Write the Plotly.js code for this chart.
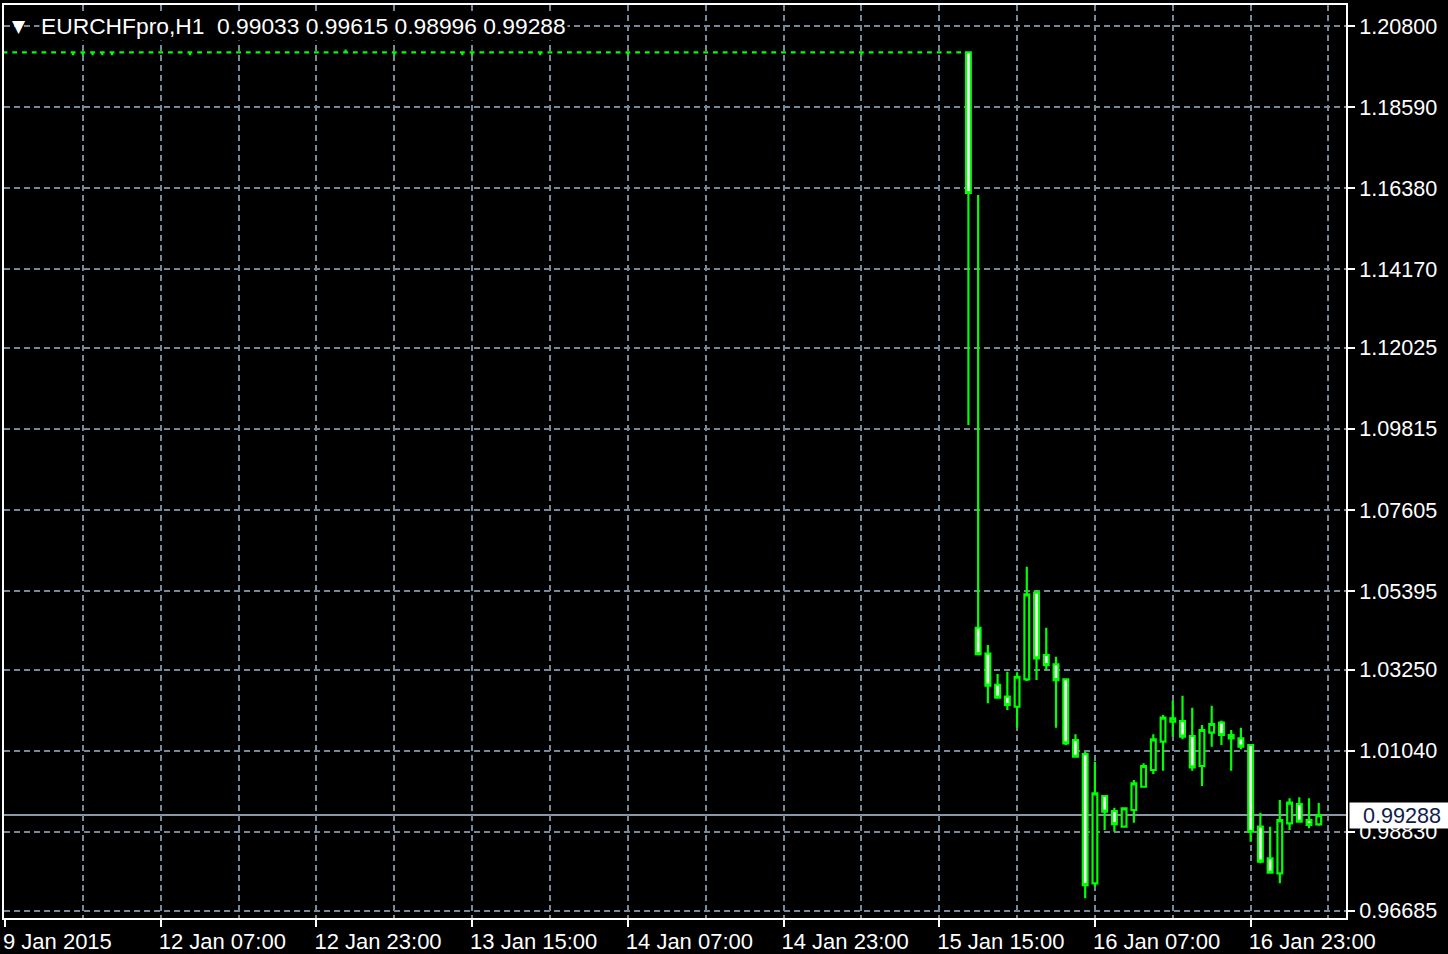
<!DOCTYPE html>
<html>
<head>
<meta charset="utf-8">
<script src="https://cdn.plot.ly/plotly-3.0.1.min.js"></script>
<style>html,body{margin:0;padding:0;background:#000;}#chart{width:1448px;height:954px;}</style>
</head>
<body>
<div id="chart"></div>
<script>
// ---- data (EURCHFpro, H1) ----
const symbolTitle = "EURCHFpro,H1";
const lastBarOHLC = ["0.99033", "0.99615", "0.98996", "0.99288"];
const lastPrice = 0.99288;

const xTickLabels = ["9 Jan 2015", "12 Jan 07:00", "12 Jan 23:00", "13 Jan 15:00", "14 Jan 07:00",
                     "14 Jan 23:00", "15 Jan 15:00", "16 Jan 07:00", "16 Jan 23:00"];
const xTickBars = [0, 16, 32, 48, 64, 80, 96, 112, 128];
const xGridBars = [8, 24, 40, 56, 72, 88, 104, 120, 136];

const yTickLabels = ["1.20800", "1.18590", "1.16380", "1.14170", "1.12025", "1.09815",
                     "1.07605", "1.05395", "1.03250", "1.01040", "0.98830", "0.96685"];

const openPrices = [
 1.2008,1.2008,1.2008,1.2008,1.2008,1.2008,1.2008,1.2008,1.2008,1.2008,1.2008,
 1.2008,1.2008,1.2008,1.2008,1.2008,1.2008,1.2008,1.2008,1.2008,1.2008,1.2008,
 1.2008,1.2008,1.2008,1.2008,1.2008,1.2008,1.2008,1.2008,1.2008,1.2008,1.2008,
 1.2008,1.2008,1.2008,1.2008,1.2008,1.2008,1.2008,1.2008,1.2008,1.2008,1.2008,
 1.2008,1.2008,1.2008,1.2008,1.2008,1.2008,1.2008,1.2008,1.2008,1.2008,1.2008,
 1.2008,1.2008,1.2008,1.2008,1.2008,1.2008,1.2008,1.2008,1.2008,1.2008,1.2008,
 1.2008,1.2008,1.2008,1.2008,1.2008,1.2008,1.2008,1.2008,1.2008,1.2008,1.2008,
 1.2008,1.2008,1.2008,1.2008,1.2008,1.2008,1.2008,1.2008,1.2008,1.2008,1.2008,
 1.2008,1.2008,1.2008,1.2008,1.2008,1.2008,1.2008,1.2008,1.2008,1.2008,1.2008,
 1.2008,1.04395,1.03690,1.02840,1.02514,1.02241,1.02988,1.05350,1.03651,1.03397,
 1.02988,1.01334,1.00952,0.97427,0.99807,0.99398,0.98970,0.99425,1.00060,1.00516,
 1.01287,1.01832,1.01851,1.01443,1.00625,1.01533,1.01805,1.01470,1.01380,1.01197,
 0.98970,0.98108,0.97699,0.99062,0.99589,0.99152,0.99033
];
const highPrices = [
 1.2008,1.2008,1.2008,1.2008,1.2008,1.2008,1.2008,1.2008,1.2008,1.2008,1.2008,
 1.2008,1.2008,1.2008,1.2008,1.2008,1.2008,1.2008,1.2008,1.2008,1.2008,1.2008,
 1.2008,1.2008,1.2008,1.2008,1.2008,1.2008,1.2008,1.2008,1.2008,1.2008,1.2008,
 1.2008,1.2008,1.2016,1.2008,1.2008,1.2008,1.2008,1.2008,1.2008,1.2008,1.2008,
 1.2008,1.2008,1.2008,1.2008,1.2008,1.2008,1.2008,1.2008,1.2008,1.2008,1.2008,
 1.2008,1.2008,1.2008,1.2008,1.2008,1.2008,1.2008,1.2008,1.2008,1.2008,1.2008,
 1.2008,1.2008,1.2008,1.2008,1.2008,1.2008,1.2008,1.2008,1.2008,1.2008,1.2008,
 1.2008,1.2008,1.2008,1.2008,1.2008,1.2008,1.2008,1.2008,1.2008,1.2008,1.2008,
 1.2008,1.2008,1.2008,1.2008,1.2008,1.2008,1.2008,1.2008,1.2008,1.2008,1.2008,
 1.2009,1.16192,1.03924,1.03133,1.03196,1.03179,1.06058,1.05423,1.04395,1.03605,
 1.03016,1.01489,1.01015,1.00742,0.99834,0.99488,0.99488,1.00243,1.00698,1.01489,
 1.02015,1.02405,1.02541,1.02214,1.01742,1.02269,1.01860,1.01606,1.01669,1.01216,
 0.99351,0.98970,0.99698,0.99744,0.99771,0.99744,0.99615
];
const lowPrices = [
 1.2008,1.2008,1.2008,1.2008,1.2008,1.2008,1.2008,1.2000,1.2000,1.2000,1.2000,
 1.2000,1.2008,1.2008,1.2008,1.2008,1.2008,1.2008,1.2008,1.2000,1.2008,1.2008,
 1.2008,1.2008,1.2008,1.2008,1.2008,1.2008,1.2008,1.2008,1.2008,1.2008,1.2008,
 1.2008,1.2008,1.2008,1.2008,1.2008,1.2008,1.2008,1.2000,1.2008,1.2008,1.2008,
 1.2008,1.2008,1.2008,1.2000,1.2000,1.2008,1.2008,1.2008,1.2008,1.2008,1.2008,
 1.2000,1.2008,1.2008,1.2008,1.2008,1.2008,1.2008,1.2008,1.2008,1.2000,1.2008,
 1.2008,1.2008,1.2008,1.2008,1.2008,1.2008,1.2008,1.2008,1.2008,1.2008,1.2008,
 1.2008,1.2008,1.2008,1.2008,1.2008,1.2008,1.2008,1.2008,1.2008,1.2008,1.2008,
 1.2000,1.2008,1.2008,1.2008,1.2008,1.2008,1.2008,1.2008,1.2008,1.2008,1.2008,
 1.09922,1.03678,1.02334,1.02466,1.02151,1.01669,1.02942,1.02969,1.03242,1.01669,
 1.01197,1.00878,0.97018,0.97334,0.98880,0.98833,0.98954,0.99079,1.00044,1.00407,
 1.00497,1.01424,1.01353,1.00497,1.00079,1.01151,1.01197,1.00497,1.01080,0.98561,
 0.97972,0.97699,0.97427,0.98880,0.99079,0.98926,0.98996
];
const closePrices = [
 1.2008,1.2008,1.2008,1.2008,1.2008,1.2008,1.2008,1.2008,1.2008,1.2008,1.2008,
 1.2008,1.2008,1.2008,1.2008,1.2008,1.2008,1.2008,1.2008,1.2008,1.2008,1.2008,
 1.2008,1.2008,1.2008,1.2008,1.2008,1.2008,1.2008,1.2008,1.2008,1.2008,1.2008,
 1.2008,1.2008,1.2008,1.2008,1.2008,1.2008,1.2008,1.2008,1.2008,1.2008,1.2008,
 1.2008,1.2008,1.2008,1.2008,1.2008,1.2008,1.2008,1.2008,1.2008,1.2008,1.2008,
 1.2008,1.2008,1.2008,1.2008,1.2008,1.2008,1.2008,1.2008,1.2008,1.2008,1.2008,
 1.2008,1.2008,1.2008,1.2008,1.2008,1.2008,1.2008,1.2008,1.2008,1.2008,1.2008,
 1.2008,1.2008,1.2008,1.2008,1.2008,1.2008,1.2008,1.2008,1.2008,1.2008,1.2008,
 1.2008,1.2008,1.2008,1.2008,1.2008,1.2008,1.2008,1.2008,1.2008,1.2008,1.2008,
 1.16247,1.03678,1.02814,1.02487,1.02288,1.03059,1.05306,1.03561,1.03378,1.02969,
 1.01244,1.00878,0.97380,0.99880,0.99379,0.99043,0.99471,1.00153,1.00625,1.01353,
 1.01942,1.01925,1.01424,1.00589,1.01606,1.01770,1.01470,1.01380,1.01151,0.98833,
 0.98016,0.97716,0.99152,0.99624,0.99106,0.99016,0.99288
];

// bar index positions on the time axis
const barIndex = openPrices.map((_, i) => i);
const yTickVals = yTickLabels.map(parseFloat);

const GREEN = '#00ff00';
const GRID = '#778899';
const FONT = 'Liberation Sans, Arial, sans-serif';

const trace = {
  type: 'candlestick',
  x: barIndex, open: openPrices, high: highPrices, low: lowPrices, close: closePrices,
  increasing: {line: {color: GREEN, width: 2.2}, fillcolor: '#000000'},
  decreasing: {line: {color: GREEN, width: 2.2}, fillcolor: '#ffffff'},
  whiskerwidth: 0,
  hoverinfo: 'skip'
};

const layout = {
  width: 1448, height: 954,
  paper_bgcolor: '#000000', plot_bgcolor: '#000000',
  margin: {l: 4, r: 102, t: 5, b: 36},
  showlegend: false,
  font: {family: FONT, color: '#ffffff', size: 21.5},
  xaxis: {
    range: [-0.1, 137.8],
    tickmode: 'array', tickvals: xTickBars, ticktext: xTickLabels,
    ticks: 'outside', ticklen: 7, tickwidth: 2, tickcolor: '#ffffff',
    ticklabelposition: 'outside right', ticklabelstandoff: 3, ticklabelshift: -4,
    tickfont: {family: FONT, size: 22, color: '#ffffff'},
    showgrid: true, gridcolor: GRID, gridwidth: 2, griddash: '6px,4px',
    minor: {tickmode: 'array', tickvals: xGridBars, showgrid: true, gridcolor: GRID, gridwidth: 2, griddash: '6px,4px', ticks: ''},
    showline: true, mirror: true, linecolor: '#ffffff', linewidth: 2,
    zeroline: false, rangeslider: {visible: false}, fixedrange: true
  },
  yaxis: {
    side: 'right',
    range: [0.96481, 1.21373],
    tickmode: 'array', tickvals: yTickVals, ticktext: yTickLabels,
    ticks: 'outside', ticklen: 7, tickwidth: 2, tickcolor: '#ffffff',
    tickfont: {family: FONT, size: 21.6, color: '#ffffff'},
    showgrid: true, gridcolor: GRID, gridwidth: 2, griddash: '6px,4px',
    showline: true, mirror: true, linecolor: '#ffffff', linewidth: 2,
    zeroline: false, fixedrange: true
  },
  shapes: [{
    type: 'line', xref: 'paper', x0: 0, x1: 1, yref: 'y', y0: lastPrice, y1: lastPrice,
    line: {color: '#8a98a8', width: 2}, layer: 'below'
  }],
  annotations: [
    {xref: 'paper', x: 0, xanchor: 'left', xshift: 6, yref: 'y', y: yTickVals[0], yanchor: 'middle',
     text: '▼', showarrow: false, font: {family: 'DejaVu Sans', size: 17, color: '#ffffff'}},
    {xref: 'paper', x: 0, xanchor: 'left', xshift: 35, yref: 'y', y: yTickVals[0], yanchor: 'middle',
     text: symbolTitle + '&nbsp;&nbsp;' + lastBarOHLC.join(' '), showarrow: false, bgcolor: '#000000', borderpad: 1,
     font: {family: FONT, size: 22.8, color: '#ffffff'}},
    {xref: 'paper', x: 1, xanchor: 'left', xshift: 3, yref: 'y', y: lastPrice, yanchor: 'middle',
     text: '&nbsp;&nbsp;' + lastPrice.toFixed(5), showarrow: false, bgcolor: '#ffffff', borderpad: 1,
     width: 100, height: 23, align: 'left',
     font: {family: FONT, size: 21.6, color: '#10204a'}}
  ]
};

Plotly.newPlot('chart', [trace], layout, {staticPlot: true, displayModeBar: false});
</script>
</body>
</html>
